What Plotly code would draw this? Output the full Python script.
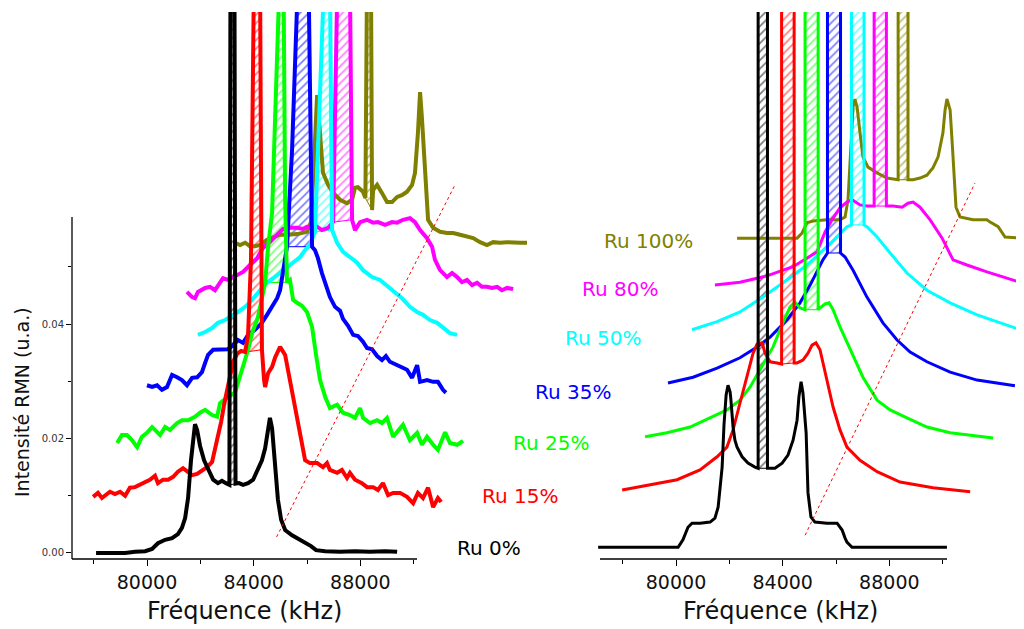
import plotly.graph_objects as go

# ---------------- data (frequency in kHz, NMR intensity in u.a.) ----------------
labels = ["Ru 0%", "Ru 15%", "Ru 25%", "Ru 35%", "Ru 50%", "Ru 80%", "Ru 100%"]
colors = ["#000000", "#FF0000", "#00FF00", "#0000FF", "#00FFFF", "#FF00FF", "#808000"]

# --- experimental spectra (left panel) ---
exp0_f = [78090, 78610, 79180, 79550, 79930, 80190, 80410, 80680, 80940, 81160, 81310, 81430, 81540, 81650, 81730, 81800, 81880, 81990, 82140, 82290, 82480, 82660, 82810, 82960, 83090, 83130, 83280, 83320, 83450, 83600, 83790, 83980, 84160, 84310, 84430, 84540, 84610, 84690, 84760, 84840, 84910, 85030, 85180, 85440, 85700, 85960, 86150, 86340, 86680, 87240, 87800, 88360, 88930, 89380]
exp0_i = [0, 0, 0, 0.0002, 0.0003, 0.0007, 0.0017, 0.0023, 0.0026, 0.0033, 0.0044, 0.0061, 0.0096, 0.0162, 0.0206, 0.0225, 0.0215, 0.0187, 0.0162, 0.0145, 0.0128, 0.0122, 0.0126, 0.0122, 0.0119, 0.1, 0.1, 0.0121, 0.0122, 0.0119, 0.0122, 0.0128, 0.0145, 0.0162, 0.0183, 0.0215, 0.0236, 0.0218, 0.0180, 0.0136, 0.0093, 0.0058, 0.0040, 0.0031, 0.0024, 0.0019, 0.0012, 0.0005, 0.0003, 0.0002, 0.0003, 0.0002, 0.0003, 0.0002]

exp15_f = [77980, 78160, 78310, 78460, 78610, 78800, 78990, 79180, 79360, 79550, 79740, 79930, 80110, 80300, 80410, 80600, 80790, 80980, 81160, 81350, 81500, 81690, 81880, 82060, 82250, 82440, 82550, 82660, 82780, 82890, 83000, 83110, 83230, 83380, 83530, 83680, 83790, 83900, 84010, 84240, 84280, 84310, 84390, 84430, 84540, 84690, 84800, 84990, 85180, 85360, 85550, 85740, 85930, 86110, 86380, 86600, 86750, 86860, 87130, 87310, 87500, 87610, 87800, 88060, 88250, 88480, 88660, 88850, 89040, 89230, 89490, 89750, 89980, 90160, 90350, 90540, 90730, 90910, 91030]
exp15_i = [0.0098, 0.0105, 0.0096, 0.0101, 0.0107, 0.0103, 0.0107, 0.0100, 0.0114, 0.0115, 0.0119, 0.0124, 0.0128, 0.0135, 0.0122, 0.0128, 0.0128, 0.0133, 0.0142, 0.0148, 0.0142, 0.0136, 0.0138, 0.0143, 0.0150, 0.0159, 0.0180, 0.0203, 0.0229, 0.0259, 0.0285, 0.0314, 0.0334, 0.0348, 0.0353, 0.0351, 0.0381, 0.0512, 0.1, 0.1, 0.0529, 0.0355, 0.0302, 0.0290, 0.0314, 0.0325, 0.0341, 0.0360, 0.0346, 0.0302, 0.0250, 0.0203, 0.0162, 0.0157, 0.0157, 0.0150, 0.0157, 0.0145, 0.0140, 0.0145, 0.0131, 0.0140, 0.0128, 0.0122, 0.0115, 0.0115, 0.0110, 0.0122, 0.0101, 0.0105, 0.0105, 0.0098, 0.0087, 0.0105, 0.0096, 0.0114, 0.0080, 0.0096, 0.0089]

exp25_f = [78880, 79060, 79250, 79440, 79630, 79810, 80000, 80190, 80300, 80490, 80680, 80860, 81130, 81310, 81540, 81800, 81990, 82180, 82440, 82630, 82740, 83040, 83300, 83490, 83680, 83790, 83940, 84160, 84350, 84430, 84540, 84690, 84970, 85120, 85180, 85250, 85360, 85480, 85630, 85810, 86000, 86190, 86340, 86490, 86680, 86860, 87130, 87350, 87610, 87800, 87990, 88100, 88360, 88630, 88810, 89000, 89230, 89380, 89600, 89860, 90130, 90310, 90500, 90730, 90910, 91180, 91360, 91630, 91850]
exp25_i = [0.0192, 0.0206, 0.0206, 0.0197, 0.0185, 0.0203, 0.0210, 0.0220, 0.0215, 0.0206, 0.0220, 0.0215, 0.0227, 0.0232, 0.0232, 0.0238, 0.0245, 0.0250, 0.0241, 0.0238, 0.0262, 0.0273, 0.0280, 0.0307, 0.0334, 0.0355, 0.0384, 0.0412, 0.0454, 0.0472, 0.0535, 0.0594, 0.1, 0.1, 0.0617, 0.0473, 0.0477, 0.0442, 0.0437, 0.0432, 0.0421, 0.0395, 0.0346, 0.0302, 0.0273, 0.0253, 0.0259, 0.0245, 0.0241, 0.0236, 0.0253, 0.0236, 0.0227, 0.0232, 0.0227, 0.0236, 0.0203, 0.0211, 0.0224, 0.0197, 0.0210, 0.0189, 0.0203, 0.0189, 0.0180, 0.0211, 0.0192, 0.0189, 0.0196]

exp35_f = [80000, 80190, 80380, 80560, 80750, 80940, 81130, 81310, 81500, 81690, 81880, 82060, 82180, 82290, 82480, 82660, 82850, 83040, 83230, 83410, 83600, 83790, 84050, 84310, 84500, 84690, 84880, 84990, 85060, 85140, 85250, 85440, 85660, 86060, 86110, 86190, 86300, 86410, 86560, 86750, 86860, 87050, 87240, 87350, 87540, 87730, 87910, 88100, 88250, 88440, 88630, 88810, 88960, 89110, 89380, 89560, 89750, 89940, 90130, 90240, 90500, 90730, 90910, 91100, 91210]
exp35_i = [0.0293, 0.0290, 0.0293, 0.0285, 0.0290, 0.0311, 0.0307, 0.0302, 0.0293, 0.0306, 0.0307, 0.0316, 0.0332, 0.0346, 0.0355, 0.0355, 0.0355, 0.0356, 0.0363, 0.0372, 0.0367, 0.0381, 0.0390, 0.0402, 0.0416, 0.0430, 0.0445, 0.0459, 0.0482, 0.0507, 0.0535, 0.0704, 0.1, 0.1, 0.0791, 0.0535, 0.0529, 0.0515, 0.0489, 0.0463, 0.0447, 0.0430, 0.0423, 0.0409, 0.0397, 0.0381, 0.0379, 0.0369, 0.0358, 0.0356, 0.0344, 0.0337, 0.0344, 0.0334, 0.0328, 0.0323, 0.0320, 0.0306, 0.0328, 0.0299, 0.0302, 0.0299, 0.0299, 0.0285, 0.0280]

exp50_f = [81910, 82180, 82440, 82660, 82930, 83190, 83410, 83680, 83940, 84240, 84500, 84730, 84990, 85250, 85480, 85740, 85930, 86110, 86300, 86640, 86860, 86940, 87130, 87350, 87610, 87880, 88100, 88440, 88740, 89040, 89300, 89560, 89860, 90130, 90350, 90610, 90880, 91100, 91360, 91630]
exp50_i = [0.0381, 0.0386, 0.0393, 0.0402, 0.0407, 0.0414, 0.0421, 0.0430, 0.0442, 0.0459, 0.0472, 0.0480, 0.0489, 0.0498, 0.0507, 0.0517, 0.0529, 0.0538, 0.0561, 0.1, 0.1, 0.0564, 0.0542, 0.0526, 0.0517, 0.0507, 0.0494, 0.0482, 0.0477, 0.0465, 0.0454, 0.0445, 0.0430, 0.0421, 0.0416, 0.0407, 0.0402, 0.0393, 0.0384, 0.0381]

exp80_f = [81500, 81690, 81800, 81910, 82180, 82360, 82550, 82740, 82850, 83040, 83380, 83600, 83860, 84130, 84350, 84610, 84880, 85100, 85360, 85630, 85850, 86000, 86190, 86380, 86560, 86790, 86980, 87140, 87610, 87690, 87800, 87990, 88250, 88480, 88660, 88930, 89190, 89380, 89600, 89860, 90050, 90240, 90500, 90690, 90800, 90990, 91250, 91440, 91630, 91810, 92000, 92190, 92380, 92560, 92750, 92940, 93130, 93310, 93500, 93730]
exp80_i = [0.0456, 0.0447, 0.0445, 0.0456, 0.0463, 0.0465, 0.0459, 0.0473, 0.0480, 0.0477, 0.0486, 0.0491, 0.0503, 0.0515, 0.0533, 0.0543, 0.0556, 0.0566, 0.0568, 0.0568, 0.0566, 0.0570, 0.0570, 0.0570, 0.0564, 0.0568, 0.0578, 0.1, 0.1, 0.0582, 0.0564, 0.0578, 0.0582, 0.0577, 0.0578, 0.0573, 0.0578, 0.0577, 0.0582, 0.0585, 0.0578, 0.0564, 0.0550, 0.0535, 0.0512, 0.0494, 0.0482, 0.0489, 0.0482, 0.0473, 0.0477, 0.0468, 0.0472, 0.0465, 0.0465, 0.0463, 0.0465, 0.0459, 0.0463, 0.0461]

exp100_f = [83300, 83490, 83680, 83860, 84050, 84240, 84500, 84730, 84990, 85250, 85630, 86000, 86150, 86230, 86300, 86380, 86450, 86530, 86600, 86790, 86980, 87240, 87500, 87690, 87800, 87910, 88100, 88190, 88250, 88400, 88440, 88480, 88630, 88810, 89000, 89190, 89380, 89560, 89750, 89940, 90050, 90160, 90240, 90310, 90390, 90460, 90540, 90730, 90990, 91250, 91480, 91740, 92000, 92230, 92490, 92750, 92980, 93240, 93500, 93730, 93990, 94250]
exp100_i = [0.0542, 0.0538, 0.0542, 0.0536, 0.0536, 0.0538, 0.0547, 0.0552, 0.0556, 0.0556, 0.0557, 0.0561, 0.0578, 0.0652, 0.0734, 0.0800, 0.0756, 0.0704, 0.0664, 0.0643, 0.0629, 0.0617, 0.0611, 0.0617, 0.0638, 0.0639, 0.0631, 0.0620, 0.1, 0.1, 0.0599, 0.0634, 0.0643, 0.0629, 0.0613, 0.0613, 0.0622, 0.0625, 0.0631, 0.0643, 0.0664, 0.0734, 0.0805, 0.0760, 0.0704, 0.0634, 0.0582, 0.0568, 0.0561, 0.0559, 0.0559, 0.0556, 0.0552, 0.0550, 0.0543, 0.0538, 0.0543, 0.0542, 0.0543, 0.0542, 0.0542, 0.0542]

# hatched central-line windows (kHz), experimental
exp_hatch_lo = [83090, 83680, 84430, 85250, 86300, 86980, 88190]
exp_hatch_hi = [83320, 84310, 85250, 86190, 86940, 87690, 88440]

# --- simulated spectra (right panel, same arbitrary offsets) ---
sim0_f = [77080, 78650, 80080, 80260, 80450, 80600, 80900, 81280, 81460, 81580, 81650, 81730, 81800, 81880, 81950, 82030, 82060, 82140, 82210, 82290, 82480, 82700, 82960, 83080, 83080, 83430, 83430, 83710, 83980, 84200, 84390, 84540, 84610, 84690, 84760, 84840, 84880, 84950, 85060, 85210, 85660, 86040, 86230, 86340, 86410, 86600, 88400, 90160]
sim0_i = [0.0010, 0.0010, 0.0010, 0.0023, 0.0045, 0.0052, 0.0052, 0.0054, 0.0061, 0.0080, 0.0115, 0.0150, 0.0224, 0.0276, 0.0293, 0.0281, 0.0267, 0.0220, 0.0197, 0.0185, 0.0168, 0.0157, 0.0150, 0.0148, 0.1, 0.1, 0.0148, 0.0148, 0.0157, 0.0171, 0.0197, 0.0232, 0.0273, 0.0299, 0.0280, 0.0232, 0.0210, 0.0105, 0.0063, 0.0054, 0.0052, 0.0052, 0.0040, 0.0026, 0.0019, 0.0010, 0.0010, 0.0010]

sim15_f = [77980, 79030, 80040, 80900, 81540, 81910, 82140, 82400, 82660, 82890, 83040, 83230, 83340, 83530, 83790, 83960, 83960, 84430, 84430, 84540, 84760, 84950, 85100, 85250, 85400, 85660, 85890, 86150, 86410, 86900, 87540, 88400, 89640, 91030]
sim15_i = [0.0110, 0.0119, 0.0128, 0.0145, 0.0168, 0.0185, 0.0215, 0.0262, 0.0307, 0.0349, 0.0365, 0.0367, 0.0349, 0.0334, 0.0332, 0.0330, 0.1, 0.1, 0.0332, 0.0332, 0.0337, 0.0349, 0.0363, 0.0367, 0.0355, 0.0302, 0.0255, 0.0215, 0.0185, 0.0162, 0.0142, 0.0124, 0.0114, 0.0107]

sim25_f = [78840, 79660, 80530, 81280, 81910, 82400, 82780, 83150, 83640, 84010, 84280, 84460, 84650, 84840, 84840, 85330, 85330, 85400, 85590, 85740, 85890, 86150, 86530, 87010, 87540, 88030, 88660, 89410, 90280, 91890]
sim25_i = [0.0203, 0.0210, 0.0220, 0.0236, 0.0250, 0.0267, 0.0290, 0.0320, 0.0360, 0.0402, 0.0430, 0.0438, 0.0428, 0.0425, 0.1, 0.1, 0.0425, 0.0428, 0.0435, 0.0437, 0.0425, 0.0395, 0.0355, 0.0307, 0.0267, 0.0250, 0.0236, 0.0220, 0.0210, 0.0201]

sim35_f = [79700, 80640, 81540, 82400, 83040, 83530, 84160, 84650, 85030, 85290, 85510, 85680, 85680, 86170, 86170, 86340, 86640, 87160, 87760, 88290, 88780, 89410, 90280, 91290, 92710]
sim35_i = [0.0297, 0.0307, 0.0323, 0.0341, 0.0360, 0.0377, 0.0407, 0.0437, 0.0468, 0.0491, 0.0512, 0.0524, 0.1, 0.1, 0.0524, 0.0517, 0.0494, 0.0447, 0.0402, 0.0372, 0.0351, 0.0334, 0.0316, 0.0302, 0.0292]

sim50_f = [80600, 81540, 82400, 83260, 84160, 84910, 85660, 86150, 86410, 86580, 86580, 87050, 87050, 87160, 87540, 88030, 88660, 89410, 90280, 91290, 92900, 93280]
sim50_i = [0.0390, 0.0404, 0.0421, 0.0447, 0.0477, 0.0503, 0.0535, 0.0559, 0.0570, 0.0573, 0.1, 0.1, 0.0573, 0.0570, 0.0552, 0.0524, 0.0489, 0.0459, 0.0437, 0.0416, 0.0390, 0.0384]

sim80_f = [81460, 82400, 83410, 84390, 85290, 85590, 85890, 86150, 86410, 86600, 86900, 87160, 87430, 87430, 87890, 87890, 88140, 88480, 88700, 88890, 89150, 89530, 89980, 90390, 90910, 91660, 92900, 93280]
sim80_i = [0.0468, 0.0473, 0.0484, 0.0500, 0.0526, 0.0561, 0.0585, 0.0603, 0.0613, 0.0617, 0.0608, 0.0606, 0.0606, 0.1, 0.1, 0.0606, 0.0606, 0.0604, 0.0611, 0.0613, 0.0604, 0.0582, 0.0550, 0.0512, 0.0503, 0.0491, 0.0473, 0.0470]

sim100_f = [82290, 84540, 84730, 84910, 85140, 85660, 86150, 86340, 86450, 86560, 86640, 86710, 86790, 86900, 87010, 87200, 87540, 87910, 88330, 88330, 88700, 88700, 88890, 89150, 89410, 89640, 89830, 90010, 90090, 90160, 90280, 90350, 90430, 90500, 90650, 91140, 91660, 91780, 92080, 92340, 92900, 93280]
sim100_i = [0.0550, 0.0550, 0.0559, 0.0577, 0.0580, 0.0582, 0.0582, 0.0587, 0.0617, 0.0704, 0.0779, 0.0793, 0.0779, 0.0734, 0.0692, 0.0674, 0.0664, 0.0655, 0.0652, 0.1, 0.1, 0.0652, 0.0652, 0.0655, 0.0660, 0.0673, 0.0692, 0.0734, 0.0774, 0.0793, 0.0774, 0.0722, 0.0652, 0.0604, 0.0587, 0.0582, 0.0582, 0.0578, 0.0570, 0.0552, 0.0550, 0.0550]

sim_hatch_lo = [83080, 83960, 84840, 85680, 86580, 87430, 88330]
sim_hatch_hi = [83430, 84430, 85330, 86170, 87050, 87890, 88700]

# dashed red guide lines
exp_guide_f = [84860, 91550]
exp_guide_i = [0.0028, 0.0643]
sim_guide_f = [84840, 91210]
sim_guide_i = [0.0031, 0.0646]

freq_ticks = [80000, 84000, 88000]
freq_minor = [78000, 82000, 86000, 90000]
int_ticks = [0.0, 0.02, 0.04]
int_minor = [0.01, 0.03, 0.05]

exp_f = [exp0_f, exp15_f, exp25_f, exp35_f, exp50_f, exp80_f, exp100_f]
exp_i = [exp0_i, exp15_i, exp25_i, exp35_i, exp50_i, exp80_i, exp100_i]
sim_f = [sim0_f, sim15_f, sim25_f, sim35_f, sim50_f, sim80_f, sim100_f]
sim_i = [sim0_i, sim15_i, sim25_i, sim35_i, sim50_i, sim80_i, sim100_i]
for a, b in zip(exp_f + sim_f, exp_i + sim_i):
    assert len(a) == len(b), (len(a), len(b))

# ---------------- figure ----------------
# the page body has an 8px default margin: the figure is sized/offset for it
OFF = 8
W, H = 1024 - OFF, 629 - OFF
MT, MB = 12 - OFF, 70
PH = H - MT - MB
FONT = "DejaVu Sans, Arial, sans-serif"


def px(x):
    return (x - OFF) / W


def py(y):
    return (559 - y) / PH


fig = go.Figure()

# hatched central-line areas
for fs, is_, lo_l, hi_l, xa, ya in [
    (exp_f, exp_i, exp_hatch_lo, exp_hatch_hi, "x", "y"),
    (sim_f, sim_i, sim_hatch_lo, sim_hatch_hi, "x2", "y2"),
]:
    for k in range(len(labels)):
        sel = [(f, v) for f, v in zip(fs[k], is_[k]) if hi_l[k] >= f >= lo_l[k]]
        hx = [p[0] for p in sel] + [sel[0][0]]
        hy = [p[1] for p in sel] + [sel[0][1]]
        fig.add_trace(go.Scatter(
            x=hx, y=hy, mode="lines", fill="toself",
            fillcolor="rgba(255,255,255,1)",
            fillpattern=dict(shape="/", fgcolor=colors[k], bgcolor="white",
                             size=6, solidity=0.3),
            line=dict(color=colors[k], width=1),
            xaxis=xa, yaxis=ya, showlegend=False, hoverinfo="skip"))

# spectra (highest Ru first so that Ru 0% is on top)
for k in reversed(range(len(labels))):
    fig.add_trace(go.Scatter(x=exp_f[k], y=exp_i[k], mode="lines",
                             line=dict(color=colors[k], width=4),
                             name=labels[k], showlegend=False,
                             xaxis="x", yaxis="y"))
for k in reversed(range(len(labels))):
    fig.add_trace(go.Scatter(x=sim_f[k], y=sim_i[k], mode="lines",
                             line=dict(color=colors[k], width=3),
                             name=labels[k], showlegend=False,
                             xaxis="x2", yaxis="y2"))

# guide lines
fig.add_trace(go.Scatter(x=exp_guide_f, y=exp_guide_i, mode="lines",
                         line=dict(color="#FF0000", width=1, dash="3px,3px"),
                         showlegend=False, xaxis="x", yaxis="y"))
fig.add_trace(go.Scatter(x=sim_guide_f, y=sim_guide_i, mode="lines",
                         line=dict(color="#FF0000", width=1, dash="3px,3px"),
                         showlegend=False, xaxis="x2", yaxis="y2"))

y_range = [-0.00105, 0.0945]
xcommon = dict(showgrid=False, zeroline=False, showline=False,
               tickmode="array", tickvals=freq_ticks,
               ticktext=[str(v) for v in freq_ticks],
               ticks="outside", ticklen=6, tickwidth=1, tickcolor="black",
               tickfont=dict(family=FONT, size=19, color="#111"),
               minor=dict(tickvals=freq_minor, ticks="outside", ticklen=4,
                          tickwidth=1, tickcolor="black"))

fig.update_layout(
    width=W, height=H,
    margin=dict(l=0, r=0, t=MT, b=MB),
    paper_bgcolor="white", plot_bgcolor="rgba(0,0,0,0)",
    showlegend=False,
    xaxis=dict(domain=[px(72), px(560)], range=[77187.5, 95487.5], anchor="y", **xcommon),
    yaxis=dict(domain=[0, 1], range=y_range, anchor="x",
               showgrid=False, zeroline=False, showline=False,
               tickmode="array", tickvals=int_ticks,
               ticktext=["%.2f" % v for v in int_ticks],
               ticks="outside", ticklen=5, tickwidth=1, tickcolor="black",
               tickfont=dict(family=FONT, size=10, color="#333"),
               minor=dict(tickvals=int_minor, ticks="outside", ticklen=3,
                          tickwidth=1, tickcolor="black")),
    xaxis2=dict(domain=[px(596), 1.0], range=[77000, 93050], anchor="y2", **xcommon),
    yaxis2=dict(domain=[0, 1], range=y_range, anchor="x2", visible=False),
)

# axis lines (limited extent as in the original)
fig.add_shape(type="line", xref="paper", yref="paper",
              x0=px(72), x1=px(417), y0=py(559), y1=py(559),
              line=dict(color="black", width=1.3))
fig.add_shape(type="line", xref="paper", yref="paper",
              x0=px(72), x1=px(72), y0=py(559), y1=py(217),
              line=dict(color="black", width=1.3))
fig.add_shape(type="line", xref="paper", yref="paper",
              x0=px(600), x1=px(947), y0=py(559), y1=py(559),
              line=dict(color="black", width=1.3))

# series labels
label_pos = [(455, 548), (480, 496), (511, 443), (533, 392), (563, 338), (580, 289), (602, 241)]
for k, (lx, ly) in enumerate(label_pos):
    fig.add_annotation(x=px(lx), y=py(ly), xref="paper", yref="paper",
                       text=labels[k], showarrow=False, xanchor="left", yanchor="middle",
                       font=dict(family=FONT, size=20, color=colors[k]))

# axis titles
for cx in (244, 780):
    fig.add_annotation(x=px(cx), y=py(611), xref="paper", yref="paper",
                       text="Fréquence (kHz)", showarrow=False,
                       xanchor="center", yanchor="middle",
                       font=dict(family=FONT, size=24, color="#111"))
fig.add_annotation(x=px(22), y=py(402), xref="paper", yref="paper",
                   text="Intensité RMN (u.a.)", showarrow=False, textangle=-90,
                   xanchor="center", yanchor="middle",
                   font=dict(family=FONT, size=19, color="#111"))

fig.write_html("out.html")
